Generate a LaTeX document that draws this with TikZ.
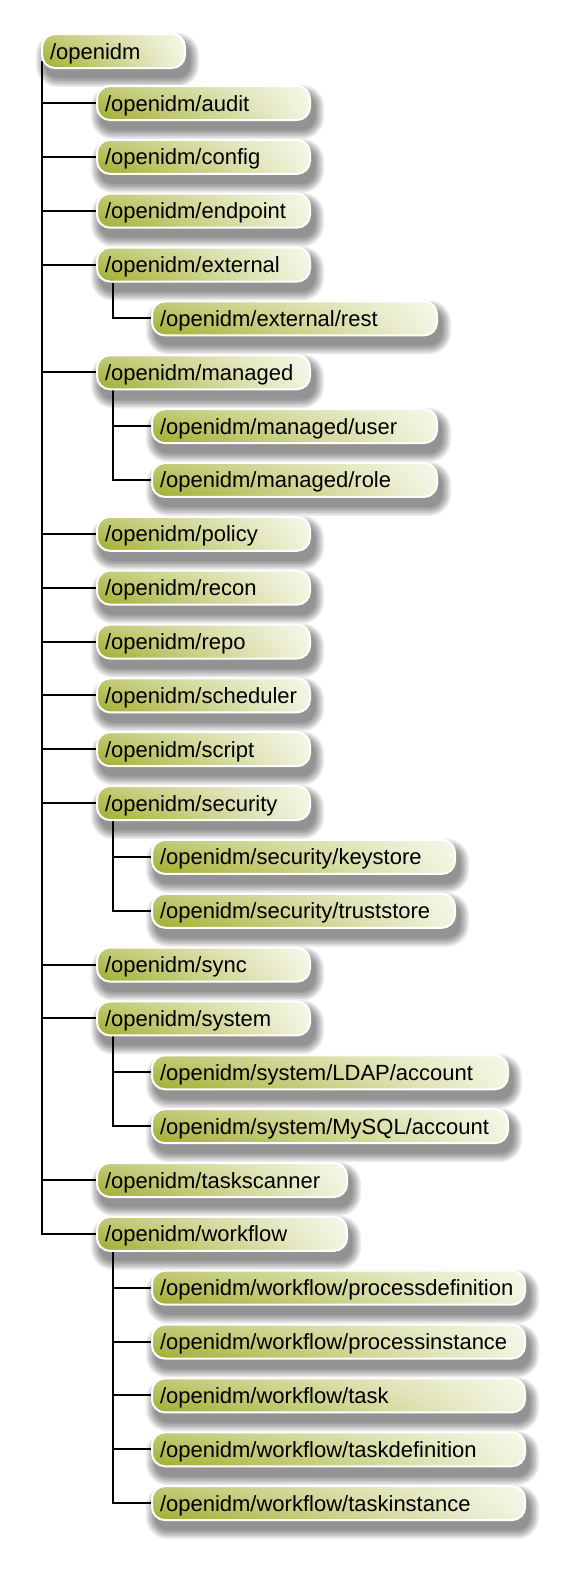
\documentclass[tikz,border=0pt]{standalone}
\usepackage{fontspec}
\setmainfont{Liberation Sans}
\usetikzlibrary{fadings}
\pgfdeclarelayer{bglayer}
\pgfdeclarelayer{shadowlayer}
\pgfdeclarelayer{linelayer}
\pgfsetlayers{bglayer,shadowlayer,linelayer,main}
\definecolor{olivedark}{RGB}{160,174,44}
\definecolor{olivemid}{RGB}{212,220,150}
\definecolor{olivepale}{RGB}{243,244,224}
\tikzfading[name=topglow, top color=transparent!0, bottom color=transparent!100]
\tikzset{
  bx/.style={draw=white, line width=2pt, rounded corners=13pt,
    left color=olivedark, middle color=olivemid, right color=olivepale,
    postaction={fill=white, fill opacity=0.35, path fading=topglow},
    minimum height=34pt, inner xsep=8pt, inner ysep=0pt, anchor=west,
    text height=19pt, text depth=3pt,
    align=left, font=\fontsize{22pt}{26pt}\selectfont, text=black},
  conn/.style={draw=black, line width=2pt}
}
\newcommand\shad[1]{%
  \begin{pgfonlayer}{shadowlayer}
  \foreach \k in {0,1.5,3,4.5,6,7.5,9}{%
    \pgfmathsetmacro\rr{13+\k}%
    \fill[black, opacity=0.075, rounded corners=\rr pt]
      ([shift={(4pt-\k pt,-9pt+\k pt)}]#1.north west) rectangle
      ([shift={(4pt+\k pt,-9pt-\k pt)}]#1.south east);
  }
  \end{pgfonlayer}}
\begin{document}
\begin{tikzpicture}[x=1pt,y=1pt]
\begin{pgfonlayer}{bglayer}
\fill[white] (0,0) rectangle (566,-1574);
\end{pgfonlayer}
\useasboundingbox (0,0) rectangle (566,-1574);
% root
\node[bx, text width=127pt] (root) at (41,-51) {/openidm}; \shad{root}
% level 1 and 2
\node[bx, text width=197pt] (audit) at (96,-103) {/openidm/audit}; \shad{audit}
\node[bx, text width=197pt] (config) at (96,-156.85) {/openidm/config}; \shad{config}
\node[bx, text width=197pt] (endpoint) at (96,-210.7) {/openidm/endpoint}; \shad{endpoint}
\node[bx, text width=197pt] (external) at (96,-264.55) {/openidm/external}; \shad{external}
\node[bx, text width=269pt] (rest) at (151,-318.4) {/openidm/external/rest}; \shad{rest}
\node[bx, text width=197pt] (managed) at (96,-372.25) {/openidm/managed}; \shad{managed}
\node[bx, text width=269pt] (user) at (151,-426.1) {/openidm/managed/user}; \shad{user}
\node[bx, text width=269pt] (role) at (151,-479.95) {/openidm/managed/role}; \shad{role}
\node[bx, text width=197pt] (policy) at (96,-533.8) {/openidm/policy}; \shad{policy}
\node[bx, text width=197pt] (recon) at (96,-587.65) {/openidm/recon}; \shad{recon}
\node[bx, text width=197pt] (repo) at (96,-641.5) {/openidm/repo}; \shad{repo}
\node[bx, text width=197pt] (scheduler) at (96,-695.35) {/openidm/scheduler}; \shad{scheduler}
\node[bx, text width=197pt] (script) at (96,-749.2) {/openidm/script}; \shad{script}
\node[bx, text width=197pt] (security) at (96,-803.05) {/openidm/security}; \shad{security}
\node[bx, text width=287pt] (keystore) at (151,-856.9) {/openidm/security/keystore}; \shad{keystore}
\node[bx, text width=287pt] (truststore) at (151,-910.75) {/openidm/security/truststore}; \shad{truststore}
\node[bx, text width=197pt] (sync) at (96,-964.6) {/openidm/sync}; \shad{sync}
\node[bx, text width=197pt] (system) at (96,-1018.45) {/openidm/system}; \shad{system}
\node[bx, text width=340pt] (ldap) at (151,-1072.3) {/openidm/system/LDAP/account}; \shad{ldap}
\node[bx, text width=340pt] (mysql) at (151,-1126.15) {/openidm/system/MySQL/account}; \shad{mysql}
\node[bx, text width=234pt] (taskscanner) at (96,-1180) {/openidm/taskscanner}; \shad{taskscanner}
\node[bx, text width=234pt] (workflow) at (96,-1233.85) {/openidm/workflow}; \shad{workflow}
\node[bx, text width=357pt] (procdef) at (151,-1287.7) {/openidm/workflow/processdefinition}; \shad{procdef}
\node[bx, text width=357pt] (procinst) at (151,-1341.55) {/openidm/workflow/processinstance}; \shad{procinst}
\node[bx, text width=357pt] (task) at (151,-1395.4) {/openidm/workflow/task}; \shad{task}
\node[bx, text width=357pt] (taskdef) at (151,-1449.25) {/openidm/workflow/taskdefinition}; \shad{taskdef}
\node[bx, text width=357pt] (taskinst) at (151,-1503.1) {/openidm/workflow/taskinstance}; \shad{taskinst}
% connectors
\begin{pgfonlayer}{linelayer}
\coordinate (T) at ([xshift=0.5pt,yshift=8pt]root.south west);
\draw[conn] (T) |- (workflow.west);
\foreach \n in {audit,config,endpoint,external,managed,policy,recon,repo,scheduler,script,security,sync,system,taskscanner}
  \draw[conn] (T |- \n.west) -- (\n.west);
\coordinate (Ex) at ([xshift=17.3pt]external.south west);
\draw[conn] (Ex) |- (rest.west);
\coordinate (Ma) at ([xshift=17.3pt]managed.south west);
\draw[conn] (Ma) |- (role.west);
\draw[conn] (Ma |- user.west) -- (user.west);
\coordinate (Se) at ([xshift=17.3pt]security.south west);
\draw[conn] (Se) |- (truststore.west);
\draw[conn] (Se |- keystore.west) -- (keystore.west);
\coordinate (Sy) at ([xshift=17.3pt]system.south west);
\draw[conn] (Sy) |- (mysql.west);
\draw[conn] (Sy |- ldap.west) -- (ldap.west);
\coordinate (Wf) at ([xshift=17.3pt]workflow.south west);
\draw[conn] (Wf) |- (taskinst.west);
\foreach \n in {procdef,procinst,task,taskdef}
  \draw[conn] (Wf |- \n.west) -- (\n.west);
\end{pgfonlayer}
\end{tikzpicture}
\end{document}
